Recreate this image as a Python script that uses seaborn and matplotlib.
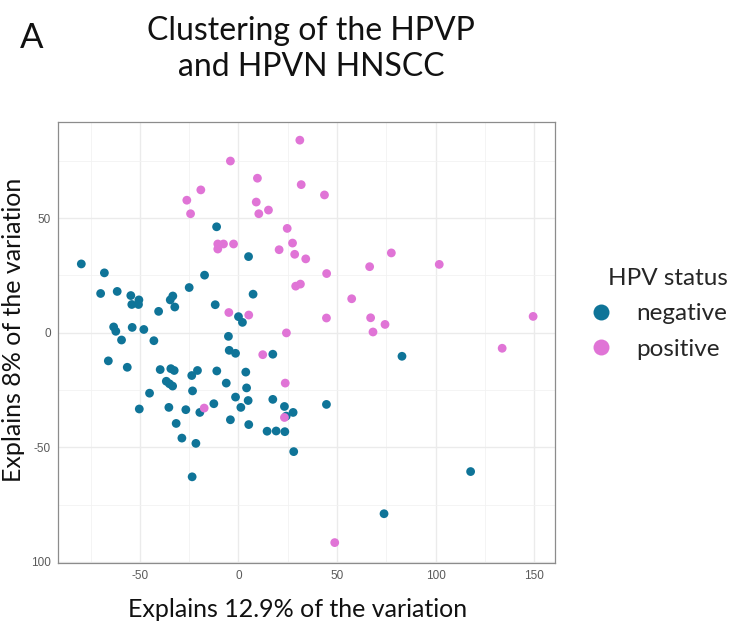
import pandas as pd
import numpy as np
import matplotlib
matplotlib.use("Agg")
import matplotlib.pyplot as plt
import seaborn as sns
from matplotlib.ticker import MultipleLocator

# --- DATA: PCA coordinates ---
neg_x = [-79.7, -68.0, -69.9, -61.5, -54.6, -50.5, -54.1, -50.7, -40.5, -33.3,
         -34.6, -32.3, -25.0, -17.2, -11.1, 5.1, 7.4, -11.8, 0.0, 2.0,
         -5.1, -63.3, -62.2, -53.9, -48.0, -59.3, -42.9, -66.0, -56.4, -39.7,
         -34.3, -32.6, -36.6, -35.0, -33.4, -45.1, -50.3, -35.3, -26.7, -31.6,
         -28.7, -21.6, -23.5, -23.7, -20.8, -23.3, -19.6, -12.5, -11.0, -6.2,
         -4.7, -1.5, 17.4, 3.7, 4.1, -1.5, 4.9, 1.2, -4.1, 5.2,
         17.4, 23.3, 27.7, 24.2, 14.5, 19.1, 23.5, 28.0, 82.9, 44.6,
         117.7, 73.8]
neg_y = [30.0, 26.1, 17.1, 18.0, 16.2, 14.3, 12.3, 12.3, 9.3, 16.0,
         14.3, 11.2, 19.7, 25.1, 46.2, 33.2, 16.8, 12.2, 7.0, 4.5,
         -1.6, 2.5, 0.6, 2.3, 1.4, -3.2, -3.5, -12.3, -15.1, -16.1,
         -15.7, -16.5, -21.2, -22.3, -23.3, -26.4, -33.3, -32.6, -33.6, -39.6,
         -46.0, -48.3, -62.9, -18.7, -16.5, -25.4, -34.8, -31.0, -16.7, -22.0,
         -7.7, -9.0, -9.4, -17.2, -24.1, -28.1, -29.6, -32.6, -38.0, -40.1,
         -29.1, -32.2, -34.8, -36.4, -43.0, -42.9, -43.2, -51.9, -10.3, -31.3,
         -60.6, -79.0]

pos_x = [31.1, -4.1, 9.6, 31.8, -19.1, -26.2, -24.3, 9.0, 10.3, 15.2,
         24.7, 27.4, 28.5, 20.6, 34.1, -10.5, -10.5, -7.6, -2.5, 29.0,
         31.4, -4.9, 5.2, 24.3, -17.4, 12.3, 23.7, 23.3, 43.6, 77.5,
         66.5, 101.8, 44.7, 57.4, 44.6, 67.0, 74.3, 68.2, 149.4, 133.7,
         48.8]
pos_y = [84.0, 74.9, 67.4, 64.6, 62.3, 57.8, 51.9, 57.0, 51.9, 53.5,
         45.5, 39.1, 34.2, 36.2, 32.2, 38.7, 36.5, 38.7, 38.7, 20.3,
         21.2, 8.8, 7.7, -0.1, -32.9, -9.6, -22.0, -37.0, 60.1, 34.8,
         28.8, 29.8, 25.8, 14.8, 6.4, 6.5, 3.6, 0.3, 7.1, -6.8,
         -91.6]

status = ["negative"] * len(neg_x) + ["positive"] * len(pos_x)
df = pd.DataFrame({"PC1": neg_x + pos_x, "PC2": neg_y + pos_y, "HPV status": status})

palette = {"negative": "#0F7498", "positive": "#E074D6"}
x_ticks = [-50, 0, 50, 100, 150]
y_ticks = [-100, -50, 0, 50]
y_tick_labels = ["100", "-50", "0", "50"]

# --- PLOT ---
sns.set_style("white")
plt.rcParams["axes.unicode_minus"] = False
big_font = ["Lato", "DejaVu Sans"]
tick_font = ["Liberation Sans", "DejaVu Sans"]

fig = plt.figure(figsize=(7.3, 6.28), dpi=100)
ax = fig.add_axes([0.0795, 0.1035, 0.6808, 0.7025])

sns.scatterplot(data=df, x="PC1", y="PC2", hue="HPV status", palette=palette,
                s=40, linewidth=0, ax=ax, legend=False, zorder=3)

ax.set_xlim(-91.5, 160.5)
ax.set_ylim(-100.5, 92)
ax.set_xticks(x_ticks)
ax.set_yticks(y_ticks)
ax.set_yticklabels(y_tick_labels)
ax.xaxis.set_minor_locator(MultipleLocator(25))
ax.yaxis.set_minor_locator(MultipleLocator(25))
ax.grid(True, which="major", color="#EBEBEB", linewidth=1.0, zorder=0)
ax.grid(True, which="minor", color="#F2F2F2", linewidth=0.6, zorder=0)
ax.set_axisbelow(True)
for sp in ax.spines.values():
    sp.set_color("#8C8C8C")
    sp.set_linewidth(0.9)
ax.tick_params(axis="both", which="major", length=3, width=0.7, color="#555555",
               labelsize=8.5, labelcolor="#5A5A5A", pad=2)
ax.tick_params(axis="both", which="minor", length=0)
for lab in ax.get_xticklabels() + ax.get_yticklabels():
    lab.set_family(tick_font)

ax.set_xlabel("Explains 12.9% of the variation", family=big_font, fontsize=18,
              color="#111111")
ax.set_ylabel("Explains 8% of the variation", family=big_font, fontsize=18,
              color="#111111")
ax.xaxis.set_label_coords(0.481, -0.080)
ax.yaxis.set_label_coords(-0.066, 0.528)

fig.text(0.426, 0.922, "Clustering of the HPVP\nand HPVN HNSCC", ha="center",
         va="center", family=big_font, fontsize=23, linespacing=1.22, color="#111111")
fig.text(0.027, 0.94, "A", ha="left", va="center", family=big_font, fontsize=25,
         color="#111111")

# legend
handles = [plt.Line2D([], [], marker="o", linestyle="", markersize=11.5,
                      markerfacecolor=palette[k], markeredgewidth=0, label=k)
           for k in ["negative", "positive"]]
leg = fig.legend(handles=handles, title="HPV status", loc="center left",
                 bbox_to_anchor=(0.797, 0.50), frameon=False,
                 prop={"family": big_font, "size": 17.5}, handletextpad=1.05,
                 labelspacing=0.58, handlelength=0.8, borderaxespad=0)
leg.get_title().set_family(big_font)
leg.get_title().set_fontsize(17.5)
leg.get_title().set_position((8, 0))

fig.savefig("out.png", dpi=100)
